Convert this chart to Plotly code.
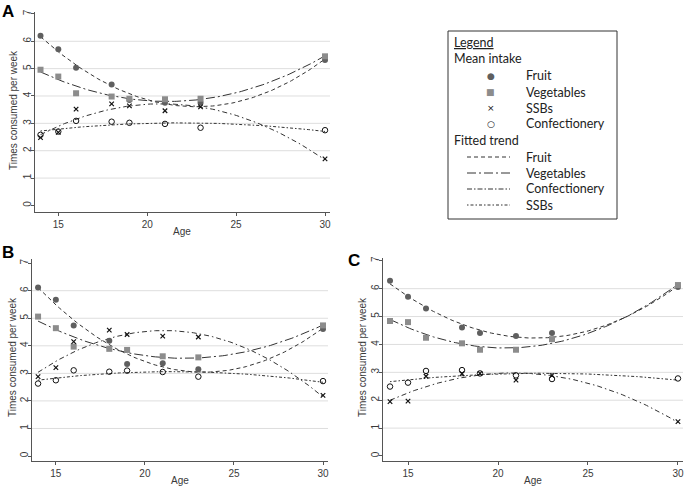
import numpy as np
import plotly.graph_objects as go

ages = [14, 15, 16, 18, 19, 21, 23, 30]

# Panel A
a_fruit = [6.20, 5.71, 5.03, 4.42, 3.85, 3.75, 3.75, 5.32]
a_veg = [4.96, 4.71, 4.10, 3.98, 3.90, 3.88, 3.90, 5.45]
a_ssb = [2.48, 2.67, 3.52, 3.71, 3.64, 3.46, 3.60, 1.70]
a_conf = [2.58, 2.70, 3.09, 3.06, 3.02, 2.98, 2.84, 2.75]
# Panel B
b_fruit = [6.12, 5.67, 4.74, 4.18, 3.34, 3.37, 3.15, 4.61]
b_veg = [5.06, 4.64, 3.97, 3.89, 3.85, 3.62, 3.58, 4.74]
b_ssb = [2.88, 3.21, 4.15, 4.57, 4.41, 4.35, 4.32, 2.20]
b_conf = [2.63, 2.75, 3.11, 3.06, 3.10, 3.05, 2.88, 2.72]
# Panel C
c_fruit = [6.28, 5.71, 5.29, 4.61, 4.41, 4.30, 4.41, 6.06]
c_veg = [4.84, 4.80, 4.24, 4.04, 3.81, 3.81, 4.19, 6.13]
c_ssb = [1.95, 1.97, 2.86, 2.95, 2.96, 2.72, 2.89, 1.23]
c_conf = [2.49, 2.63, 3.05, 3.08, 2.96, 2.89, 2.76, 2.78]

y_ticks = [0, 1, 2, 3, 4, 5, 6, 7]
x_ticks = [15, 20, 25, 30]
grid_vals = [1, 2, 3, 4, 5, 6]

W, H = 685, 486
FONT = "Liberation Sans, Arial, sans-serif"
LFONT = "Lato, Open Sans, sans-serif"
TCOL = "#3a3a3a"

panels = [
    dict(name="A", data=(a_fruit, a_veg, a_ssb, a_conf),
         x=(35, 330), y=(12, 212), xr=(13.69, 30.28), yr=(-0.24, 7.07),
         ytitle=(14, 110), xtitle=(182, 231)),
    dict(name="B", data=(b_fruit, b_veg, b_ssb, b_conf),
         x=(32, 328), y=(259, 461), xr=(13.66, 30.28), yr=(-0.18, 7.15),
         ytitle=(12, 357), xtitle=(180, 480)),
    dict(name="C", data=(c_fruit, c_veg, c_ssb, c_conf),
         x=(383, 683), y=(258, 461), xr=(13.61, 30.28), yr=(-0.18, 7.1),
         ytitle=(362, 357), xtitle=(533, 480)),
]

dash_fruit = "4px,3px"
dash_veg = "9px,3px,2px,3px"
dash_ssb = "5px,3px,1.5px,3px"
dash_conf = "1.5px,2px,3px,2px"

fig = go.Figure()
layout = dict(width=W, height=H, margin=dict(l=0, r=0, t=0, b=0, pad=0, autoexpand=False),
              paper_bgcolor="white", plot_bgcolor="white", showlegend=False)
shapes = []
annotations = []

xfit = np.linspace(14, 30, 120)

for i, p in enumerate(panels):
    n = "" if i == 0 else str(i + 1)
    xa, ya = "x" + n, "y" + n
    fruit, veg, ssb, conf = p["data"]
    for vals, dash in [(fruit, dash_fruit), (veg, dash_veg), (ssb, dash_ssb), (conf, dash_conf)]:
        coef = np.polyfit(ages, vals, 2)
        fig.add_trace(go.Scatter(x=xfit, y=np.polyval(coef, xfit), mode="lines",
                                 line=dict(color="#333333", width=1, dash=dash),
                                 xaxis=xa, yaxis=ya, hoverinfo="skip", cliponaxis=False))
    fig.add_trace(go.Scatter(x=ages, y=fruit, mode="markers", cliponaxis=False,
                             marker=dict(symbol="circle", size=6, color="#5f5f5f"),
                             xaxis=xa, yaxis=ya))
    fig.add_trace(go.Scatter(x=ages, y=veg, mode="markers", cliponaxis=False,
                             marker=dict(symbol="square", size=6, color="#8c8c8c"),
                             xaxis=xa, yaxis=ya))
    fig.add_trace(go.Scatter(x=ages, y=ssb, mode="markers", cliponaxis=False,
                             marker=dict(symbol="x-thin", size=4.5, color="#111111",
                                         line=dict(width=1.2, color="#111111")),
                             xaxis=xa, yaxis=ya))
    fig.add_trace(go.Scatter(x=ages, y=conf, mode="markers", cliponaxis=False,
                             marker=dict(symbol="circle-open", size=5.5, color="#111111",
                                         line=dict(width=1, color="#111111")),
                             xaxis=xa, yaxis=ya))
    x0, x1 = p["x"]
    y0, y1 = p["y"]
    layout["xaxis" + n] = dict(domain=[x0 / W, x1 / W], range=list(p["xr"]), anchor=ya,
                               automargin=False,
                               tickvals=x_ticks, ticks="outside", ticklen=3, tickcolor="#555",
                               showline=True, linecolor="#555", linewidth=1, showgrid=False,
                               zeroline=False, tickfont=dict(family=FONT, size=10, color=TCOL))
    layout["yaxis" + n] = dict(domain=[1 - y1 / H, 1 - y0 / H], range=list(p["yr"]), anchor=xa,
                               automargin=False,
                               tickvals=y_ticks, ticks="outside", ticklen=3, tickcolor="#555",
                               tickangle=-90, ticklabelstandoff=-4,
                               showline=True, linecolor="#555", linewidth=1, showgrid=False,
                               zeroline=False, tickfont=dict(family=FONT, size=10, color=TCOL))
    for g in grid_vals:
        shapes.append(dict(type="line", xref=xa + " domain", yref=ya, x0=0, x1=1, y0=g, y1=g,
                           line=dict(color="#dedede", width=1), layer="below"))
    tx, ty = p["ytitle"]
    annotations.append(dict(text="Times consumed per week", x=tx / W, y=1 - ty / H,
                            xref="paper", yref="paper", xanchor="center", yanchor="middle",
                            textangle=-90, showarrow=False,
                            font=dict(family=FONT, size=10, color=TCOL)))
    ax_, ay_ = p["xtitle"]
    annotations.append(dict(text="Age", x=ax_ / W, y=1 - ay_ / H,
                            xref="paper", yref="paper", xanchor="center", yanchor="middle",
                            showarrow=False, font=dict(family=FONT, size=10, color=TCOL)))

# panel letters
for lab, lx, ly in [("A", 0, 0), ("B", 0, 241), ("C", 346, 249)]:
    annotations.append(dict(text="<b>%s</b>" % lab, x=lx / W, y=1 - ly / H, xref="paper",
                            yref="paper", xanchor="left", yanchor="top", showarrow=False,
                            font=dict(family=FONT, size=17, color="black")))

# legend box
shapes.append(dict(type="rect", xref="paper", yref="paper", x0=448 / W, x1=617 / W,
                   y0=1 - 219 / H, y1=1 - 31 / H, line=dict(color="#333", width=1)))

def ltext(t, x, y, color="#222"):
    annotations.append(dict(text=t, x=x / W, y=1 - y / H, xref="paper", yref="paper",
                            xanchor="left", yanchor="middle", showarrow=False,
                            font=dict(family=LFONT, size=12.5, color=color)))

ltext("<u>Legend</u>", 452, 43)
ltext("Mean intake", 452, 59)
legend_markers = [("●", "#5f5f5f", "Fruit"), ("■", "#8c8c8c", "Vegetables"),
                  ("×", "#111", "SSBs"), ("○", "#111", "Confectionery")]
for k, (sym, col, lab) in enumerate(legend_markers):
    yy = 76 + 16 * k
    annotations.append(dict(text=sym, x=491 / W, y=1 - yy / H, xref="paper", yref="paper",
                            xanchor="center", yanchor="middle", showarrow=False,
                            font=dict(family="DejaVu Sans", size=9, color=col)))
    ltext(lab, 524, yy)
ltext("Fitted trend", 452, 140)
legend_lines = [(dash_fruit, "Fruit"), (dash_veg, "Vegetables"),
                ("5px,2px,1.5px,2px", "Confectionery"), ("1.5px,2px,3px,2px", "SSBs")]
for k, (dash, lab) in enumerate(legend_lines):
    yy = 157 + 16 * k
    shapes.append(dict(type="line", xref="paper", yref="paper", x0=467 / W, x1=510 / W,
                       y0=1 - yy / H, y1=1 - yy / H, line=dict(color="#333", width=1, dash=dash)))
    ltext(lab, 524, yy)

layout["shapes"] = shapes
layout["annotations"] = annotations
fig.update_layout(**layout)
fig.write_html("out.html", config={"displayModeBar": False},
               post_script="document.body.style.margin='0px';document.body.style.overflow='hidden';")
